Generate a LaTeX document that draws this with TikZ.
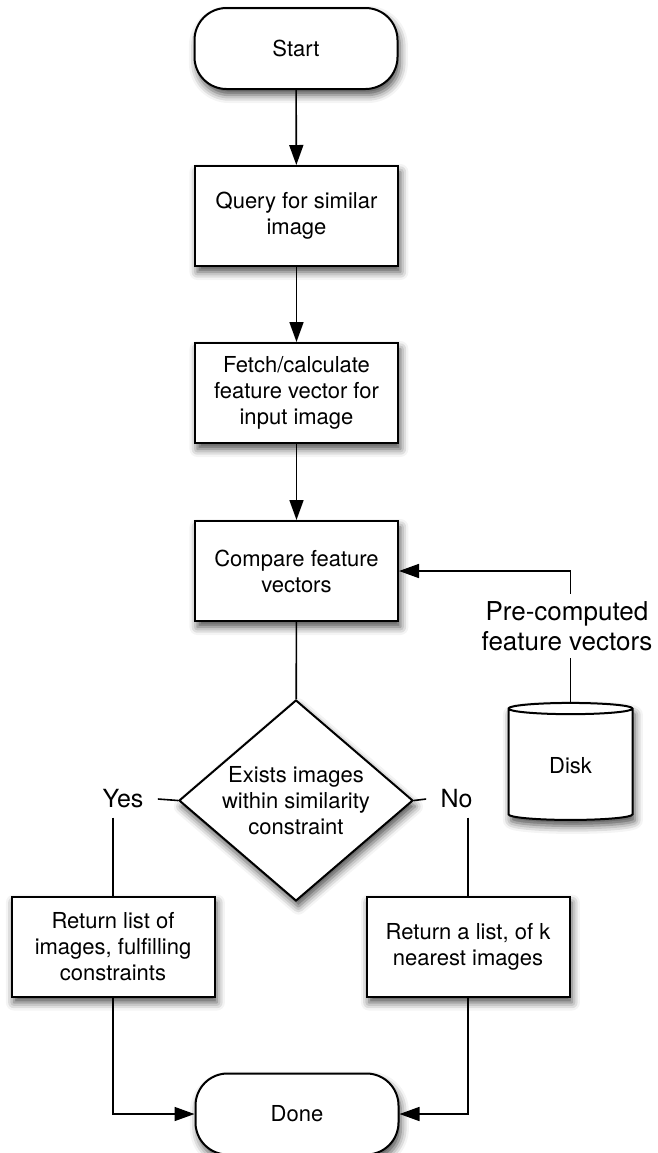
\documentclass[tikz,border=0pt]{standalone}
\usepackage{fontspec}
\setmainfont{TeX Gyre Heros}
\usetikzlibrary{shapes.geometric,arrows.meta,shadows.blur}

\tikzstyle{dropshade} = [blur shadow={shadow xshift=1.2pt,shadow yshift=-3pt,shadow blur radius=4pt,shadow opacity=70}]
\tikzstyle{boxfont} = [font=\fontsize{11pt}{13pt}\selectfont]
\tikzstyle{stepbox} = [rectangle,draw,line width=1pt,fill=white,dropshade,boxfont,align=center,inner sep=0pt,minimum width=101.5pt,minimum height=50pt]
\tikzstyle{terminal} = [stepbox,rounded corners=16pt,minimum height=40.5pt]
\tikzstyle{decision} = [diamond,aspect=1.16,draw,line width=1pt,fill=white,dropshade,boxfont,align=center,inner sep=0pt,minimum width=117pt,minimum height=100.5pt]
\tikzstyle{diskdecorate} = [cylinder,shape border rotate=90,aspect=0.2,draw,line width=1pt,fill=white,dropshade,boxfont,minimum width=62pt,minimum height=58.5pt]
\tikzstyle{branch} = [font=\fontsize{12.5pt}{14pt}\selectfont,inner xsep=7pt,inner ysep=4.5pt]
\tikzstyle{note} = [font=\fontsize{13pt}{15pt}\selectfont,align=center,inner sep=3.5pt]
\tikzstyle{edge} = [draw,line width=0.8pt,-]
\tikzstyle{arrowdecorate} = [-{Triangle[length=10pt,width=7pt]},line width=0.8pt]

\begin{document}
\begin{tikzpicture}[x=0.5pt,y=-0.5pt]
      \useasboundingbox (0,0) rectangle (658,1153);
      % nodes
      \foreach \nodename/\style/\x/\y/\text in {
        start/terminal/296/48.5/Start,
        query/stepbox/296.5/216/{Query for similar\\image},
        fetch/stepbox/296.5/393/{Fetch/calculate\\feature vector for\\input image},
        compare/stepbox/296.5/571/{Compare feature\\vectors},
        decide/decision/296/800.5/{Exists images\\within similarity\\constraint},
        disk/diskdecorate/570.5/766/Disk,
        yesbox/stepbox/113/946.5/{Return list of\\images, fulfilling\\constraints},
        nobox/stepbox/468/946.5/{Return a list, of k\\nearest images},
        done/terminal/297/1114/Done}
      {
        \node[\style] (\nodename) at (\x,\y) {\text};
      };
      \node[branch] (yes) at (123,799) {Yes};
      \node[branch] (no) at (456.5,799) {No};
      \node[note] (precomp) at (567,626) {Pre-computed\\feature vectors};

      %edges
      \path
      \foreach \startnode/\endnode in {start/query, query/fetch, fetch/compare}
      {
        (\startnode) edge[arrowdecorate] (\endnode)
      };
      \path
      (compare) edge[edge] (decide)
      (decide.west) edge[edge] (yes.east)
      (decide.east) edge[edge] (no.west)
      (yesbox.north |- yes.south) edge[edge] (yesbox.north)
      (nobox.north |- no.south) edge[edge] (nobox.north)
      (disk.north) edge[edge] (disk.north |- precomp.south);
      \draw[arrowdecorate] (yesbox.south) |- (done.west);
      \draw[arrowdecorate] (nobox.south) |- (done.east);
      \draw[arrowdecorate] (disk.north |- precomp.north) |- (compare.east);
    \end{tikzpicture}
\end{document}
